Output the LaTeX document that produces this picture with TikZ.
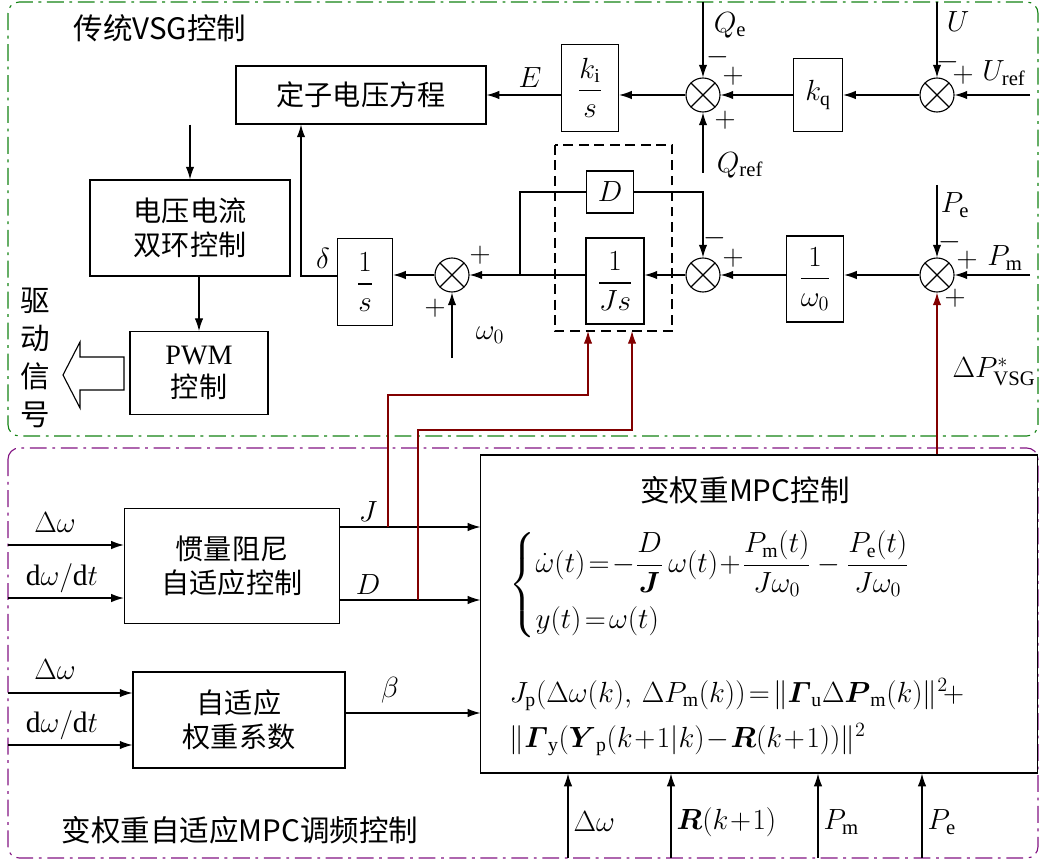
\documentclass[tikz,border=0pt]{standalone}
\usepackage{amsmath}
\usepackage{fontspec}
\setmainfont{Liberation Serif}
\newfontfamily\cjk{Noto Sans CJK SC}
\usetikzlibrary{arrows.meta,positioning}
\definecolor{vsggreen}{RGB}{20,130,20}
\definecolor{mpcpurple}{RGB}{130,20,130}
\definecolor{linkred}{RGB}{130,0,0}
\tikzset{
  blk/.style={draw,thick,inner sep=1pt,font=\fontsize{20}{24}\selectfont},
  sumn/.style={circle,draw,thick,minimum size=0.85cm,inner sep=0pt,
    path picture={\draw[thick] (path picture bounding box.north west)--(path picture bounding box.south east)
      (path picture bounding box.north east)--(path picture bounding box.south west);}},
  arr/.style={thick,-{Latex[length=9pt,width=6pt]}},
  lbl/.style={font=\fontsize{21}{24}\selectfont,inner sep=1pt},
  sgn/.style={font=\fontsize{20}{22}\selectfont,inner sep=0pt},
  frame/.style={thick,dash pattern=on 12pt off 4pt on 2pt off 4pt,rounded corners=8pt},
}
\begin{document}
\begin{tikzpicture}[x=0.025cm,y=-0.025cm]
\useasboundingbox (0,0) rectangle (1044,866);
% frames
\draw[frame,vsggreen] (8,2) rectangle (1038,436);
\draw[frame,mpcpurple] (8,448) rectangle (1038,858);
\node[lbl] at (160,28) {\cjk 传统VSG控制};
\node[lbl] at (240,830) {\cjk 变权重自适应MPC调频控制};

% reactive loop
\node[blk,minimum width=6.25cm,minimum height=1.45cm] (stator) at (361,95) {\cjk 定子电压方程};
\node[blk,minimum width=1.43cm,minimum height=2.17cm] (ki) at (590,88) {$\dfrac{k_\mathrm{i}}{s}$};
\node[sumn] (sq) at (703,95) {};
\node[blk,minimum width=1.23cm,minimum height=1.83cm] (kq) at (818,95) {$k_\mathrm{q}$};
\node[sumn] (su) at (937,95) {};
\coordinate (qe) at (703,2);
\coordinate (qr) at (703,173);
\coordinate (u) at (937,2);
\coordinate (ur) at (1030,95);
\draw[arr] (ur) -- (su);
\draw[arr] (u) -- (su);
\draw[arr] (su) -- (kq);
\draw[arr] (kq) -- (sq);
\draw[arr] (qe) -- (sq);
\draw[arr] (qr) -- (sq);
\draw[arr] (sq) -- (ki.east|-sq);
\draw[arr] (ki.west|-stator) -- (stator);
\node[lbl] at (730,25) {$Q_\mathrm{e}$};
\node[lbl] at (740,165) {$Q_\mathrm{ref}$};
\node[lbl] at (958,22) {$U$};
\node[lbl] at (1004,73) {$U_\mathrm{ref}$};
\node[lbl] at (530,78) {$E$};
\node[sgn] at (718,57) {$-$};
\node[sgn] at (733,76) {$+$};
\node[sgn] at (725,120) {$+$};
\node[sgn] at (948,62) {$-$};
\node[sgn] at (963,75) {$+$};

% inner loops
\node[blk,minimum width=5cm,minimum height=2.4cm,align=center] (dual) at (190,228) {\cjk 电压电流\\\cjk 双环控制};
\node[blk,minimum width=3.45cm,minimum height=2.07cm,align=center] (pwm) at (199,373) {PWM\\\cjk 控制};
\draw[arr] (stator.south-|dual) -- (dual);
\draw[arr] (dual.south-|pwm) -- (pwm);
\draw[thick] (124,357) -- (80,357) -- (80,342) -- (63,375) -- (80,408) -- (80,390) -- (124,390) -- cycle;
\node[lbl,align=center,font=\fontsize{21}{27}\selectfont] at (35,358) {\cjk 驱\\\cjk 动\\\cjk 信\\\cjk 号};

% active loop
\node[blk,minimum width=1.38cm,minimum height=2.17cm] (integ) at (365,282) {$\dfrac{1}{s}$};
\node[sumn] (sd) at (452,275) {};
\node[blk,minimum width=1.18cm,minimum height=1.05cm] (dblk) at (610,192) {$D$};
\node[blk,minimum width=1.45cm,minimum height=2.15cm] (jblk) at (615,281) {$\dfrac{1}{Js}$};
\node[sumn] (sp) at (703,275) {};
\node[blk,minimum width=1.43cm,minimum height=2.15cm] (wblk) at (815,279) {$\dfrac{1}{\omega_0}$};
\node[sumn] (sm) at (937,275) {};
\draw[thick,dash pattern=on 7pt off 4pt] (555,145) rectangle (672,331);
\coordinate (pe) at (937,185);
\coordinate (pm) at (1030,275);
\coordinate (w0) at (452,358);
\coordinate (br) at (520,275);
\coordinate (dl) at (301,276);
\draw[arr] (pm) -- (sm);
\draw[arr] (pe) -- (sm);
\draw[arr] (sm) -- (wblk.east|-sm);
\draw[arr] (wblk.west|-sm) -- (sp);
\draw[arr] (sp) -- (jblk.east|-sp);
\draw[arr] (jblk.west|-sp) -- (sd);
\draw[thick] (br) |- (dblk);
\draw[arr] (dblk) -| (sp);
\draw[arr] (w0) -- (sd);
\draw[arr] (sd) -- (integ.east|-sd);
\draw[arr] (integ.west|-dl) -- (dl) -- (dl|-stator.south);
\node[lbl] at (323,258) {$\delta$};
\node[lbl] at (490,335) {$\omega_0$};
\node[sgn] at (480,255) {$+$};
\node[sgn] at (435,308) {$+$};
\node[sgn] at (715,238) {$-$};
\node[sgn] at (733,258) {$+$};
\node[lbl] at (955,205) {$P_\mathrm{e}$};
\node[lbl] at (1005,258) {$P_\mathrm{m}$};
\node[sgn] at (950,242) {$-$};
\node[sgn] at (967,260) {$+$};
\node[sgn] at (955,298) {$+$};

% MPC part
\node[blk,minimum width=5.38cm,minimum height=2.88cm,align=center] (inert) at (232,566) {\cjk 惯量阻尼\\\cjk 自适应控制};
\node[blk,minimum width=5.3cm,minimum height=2.4cm,align=center] (weight) at (239,720) {\cjk 自适应\\\cjk 权重系数};
\node[draw,thick,minimum width=13.9cm,minimum height=7.95cm] (mpc) at (759,614) {};
\node[lbl] at (745,490) {\cjk 变权重MPC控制};
\node[lbl,anchor=west,font=\fontsize{20}{24}\selectfont] at (508,585) {$\left\{\begin{aligned}
 &\dot{\omega}(t)\!=\!-\frac{D}{\boldsymbol{J}}\,\omega(t)\!+\!\frac{P_\mathrm{m}(t)}{J\omega_0}-\frac{P_\mathrm{e}(t)}{J\omega_0}\\[2pt]
 &y(t)\!=\!\omega(t)\end{aligned}\right.$};
\node[lbl,anchor=west,font=\fontsize{20}{24}\selectfont] at (508,695) {$J_\mathrm{p}(\Delta\omega(k),\,\Delta P_\mathrm{m}(k))\!=\!\|\boldsymbol{\varGamma}_\mathrm{u}\Delta\boldsymbol{P}_\mathrm{m}(k)\|^2\!+$};
\node[lbl,anchor=west,font=\fontsize{20}{24}\selectfont] at (508,740) {$\|\boldsymbol{\varGamma}_\mathrm{y}(\boldsymbol{Y}_\mathrm{p}(k\!+\!1|k)\!-\!\boldsymbol{R}(k\!+\!1))\|^2$};
\foreach \yy/\nm in {545/a,598/b}{
  \coordinate (in\nm) at (8,\yy);
  \draw[arr] (in\nm) -- (inert.west|-in\nm);
}
\foreach \yy/\nm in {693/a,745/b}{
  \coordinate (iw\nm) at (8,\yy);
  \draw[arr] (iw\nm) -- (weight.west|-iw\nm);
}
\node[lbl] at (55,523) {$\Delta\omega$};
\node[lbl] at (62,578) {$\mathrm{d}\omega/\mathrm{d}t$};
\node[lbl] at (55,670) {$\Delta\omega$};
\node[lbl] at (62,725) {$\mathrm{d}\omega/\mathrm{d}t$};
\coordinate (jo) at (340,527);
\coordinate (do) at (340,600);
\coordinate (bo) at (345,713);
\draw[arr] (jo) -- (mpc.west|-jo);
\draw[arr] (do) -- (mpc.west|-do);
\draw[arr] (bo) -- (mpc.west|-bo);
\node[lbl] at (368,512) {$J$};
\node[lbl] at (368,585) {$D$};
\node[lbl] at (390,690) {$\beta$};
\foreach \xx/\nm/\tx in {568/a/{\Delta\omega},671/b/{\boldsymbol{R}(k\!+\!1)},818/c/{P_\mathrm{m}},922/d/{P_\mathrm{e}}}{
  \coordinate (bi\nm) at (\xx,858);
  \draw[arr] (bi\nm) -- (bi\nm|-mpc.south);
  \node[lbl,anchor=west] at (\xx+4,822) {$\tx$};
}

% red links
\coordinate (jt) at (388,527);
\coordinate (dt) at (418,600);
\draw[arr,linkred] (jt) -- (388,395) -- (588,395) -- (588,331);
\draw[arr,linkred] (dt) -- (418,430) -- (632,430) -- (632,331);
\draw[arr,linkred] (sm|-mpc.north) -- (sm);
\node[lbl] at (994,372) {$\Delta P^{*}_\mathrm{VSG}$};
\end{tikzpicture}
\end{document}
